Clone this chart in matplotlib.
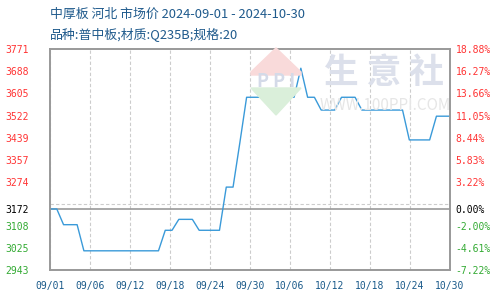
import numpy as np
import matplotlib
matplotlib.use('Agg')
import matplotlib.pyplot as plt
from matplotlib.patches import Polygon

# daily prices 2024-09-01 .. 2024-10-30 (day index 0..59)
prices = [3172, 3172, 3113, 3113, 3113, 3015, 3015, 3015, 3015, 3015,
          3015, 3015, 3015, 3015, 3015, 3015, 3015, 3092, 3092, 3133,
          3133, 3133, 3092, 3092, 3092, 3092, 3254, 3254, 3420, 3591,
          3591, 3591, 3591, 3591, 3591, 3591, 3591, 3700, 3591, 3591,
          3543, 3543, 3543, 3591, 3591, 3591, 3543, 3543, 3543, 3543,
          3543, 3543, 3543, 3431, 3431, 3431, 3431, 3520, 3520, 3520]
x_labels = ['09/01', '09/06', '09/12', '09/18', '09/24', '09/30',
            '10/06', '10/12', '10/18', '10/24', '10/30']
base = 3172
y_top = 3771
y_bottom = 2943

plt.rcParams['font.family'] = ['Noto Sans CJK SC', 'DejaVu Sans']

fig = plt.figure(figsize=(5, 3), dpi=100)
ax = fig.add_axes([0.1, 0.1, 0.8, 0.7357])

days = np.arange(len(prices))
ax.plot(days, prices, color='#3a9ad9', lw=1.0, zorder=3)
ax.axhline(base, color='#999999', lw=1.2, zorder=2)

ax.set_xlim(0, len(prices) - 1)
ax.set_ylim(y_bottom, y_top)

# grid: 10 equal steps; labels use base in place of the 7th line
grid_vals = np.linspace(y_top, y_bottom, 11)
label_vals = [v for i, v in enumerate(grid_vals) if i != 7]
label_vals.insert(7, base)
ax.set_yticks(grid_vals, minor=True)
ax.set_yticks(label_vals)
ax.set_yticklabels(['%d' % int(v + 1e-6) for v in label_vals])
ax.grid(which='minor', axis='y', color='#cccccc', ls=(0, (3, 2)), lw=0.8)

xt = np.linspace(0, len(prices) - 1, 11)
ax.set_xticks(xt)
ax.set_xticklabels(x_labels)
ax.grid(which='major', axis='x', color='#cccccc', ls=(0, (3, 2)), lw=0.8)

mono = 'DejaVu Sans Mono'
ax.tick_params(which='both', length=0)
ax.tick_params(axis='x', pad=8, labelsize=7, labelcolor='#1a5a8a')
ax.tick_params(axis='y', pad=32, labelsize=7)
for lab in ax.get_xticklabels():
    lab.set_family(mono)

def colour(v):
    if v > base:
        return '#ff3333'
    if v < base:
        return '#33aa33'
    return '#000000'

for lab, v in zip(ax.get_yticklabels(), label_vals):
    lab.set_family(mono)
    lab.set_color(colour(v))
    lab.set_horizontalalignment('left')

ax2 = ax.twinx()
ax2.set_ylim(y_bottom, y_top)
ax2.set_yticks(label_vals)
ax2.set_yticklabels(['%.2f%%' % ((v - base) / base * 100) for v in label_vals])
ax2.tick_params(length=0, pad=4, labelsize=7)
for lab, v in zip(ax2.get_yticklabels(), label_vals):
    lab.set_family(mono)
    lab.set_color(colour(v))

for a in (ax, ax2):
    for s in a.spines.values():
        s.set_color('#999999')
        s.set_linewidth(1.2)

# watermark (pixel coords, origin bottom-left)
diamond_top = Polygon([[276, 252], [251, 228], [251, 225], [301, 225], [301, 228]],
                      closed=True, transform=None, color='#f9dada', zorder=0)
diamond_bot = Polygon([[251, 212], [301, 212], [276, 185]], closed=True,
                      transform=None, color='#daefda', zorder=0)
fig.patches.extend([diamond_top, diamond_bot])
fig.text(0.552, 0.728, 'P P I', fontsize=13, color='#d4dae8', ha='center',
         va='center', fontweight='bold', zorder=0)
fig.text(0.768, 0.76, '生 意 社', fontsize=25, color='#dce0eb', ha='center',
         va='center', fontweight='bold', zorder=0)
fig.text(0.77, 0.65, 'WWW.100PPI.COM', fontsize=11, color='#e6e6e6',
         ha='center', va='center', zorder=0)

fig.text(0.1, 0.953, '中厚板 河北 市场价 2024-09-01 - 2024-10-30', fontsize=9.3,
         color='#1f5a8c', ha='left', va='center')
fig.text(0.1, 0.883, '品种:普中板;材质:Q235B;规格:20', fontsize=9.3,
         color='#1f5a8c', ha='left', va='center')

fig.savefig('out.png', dpi=100)
